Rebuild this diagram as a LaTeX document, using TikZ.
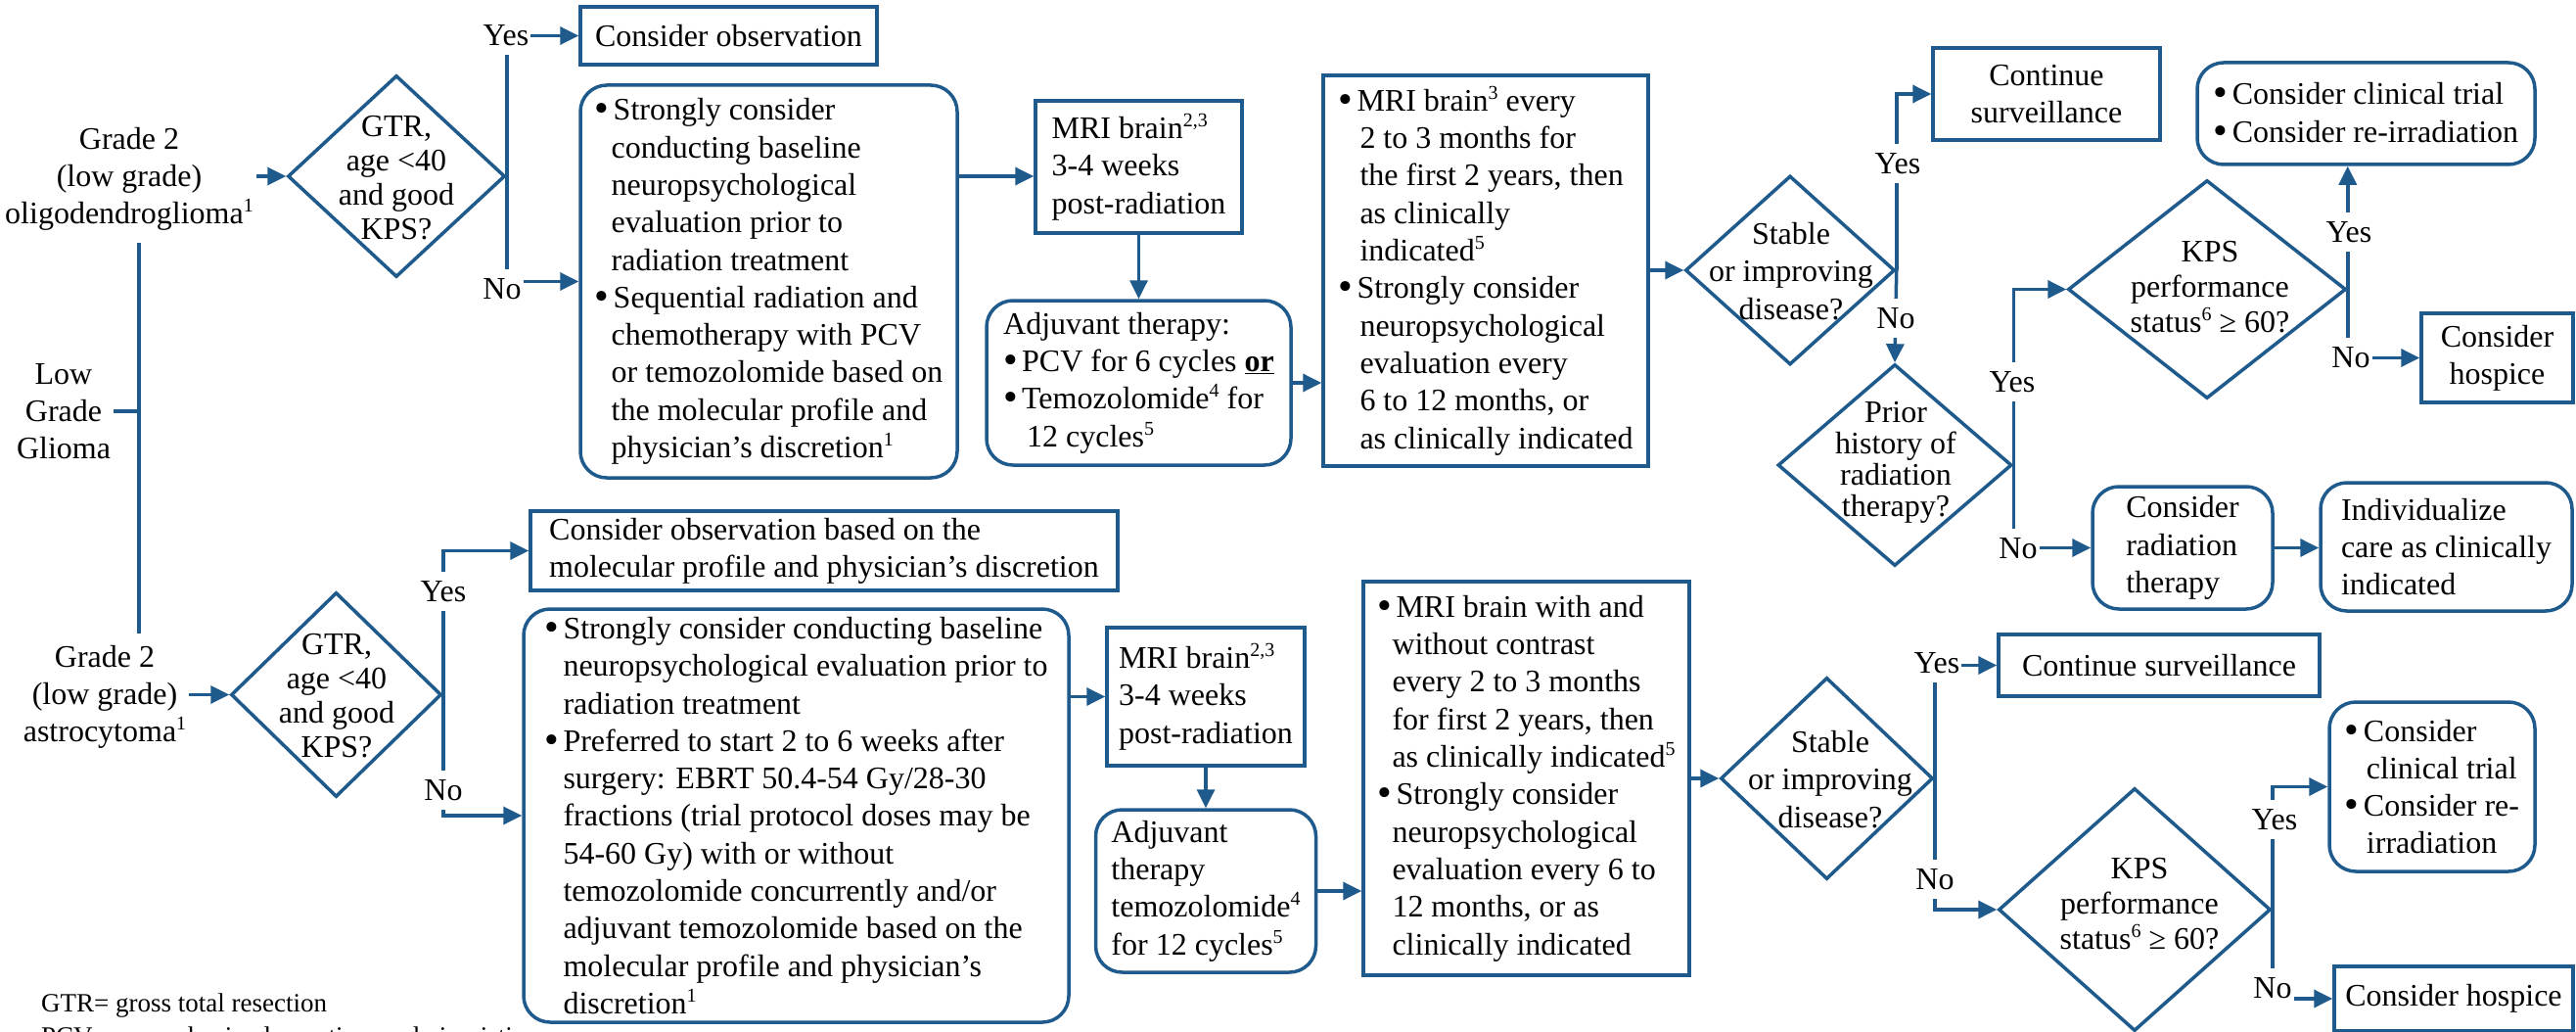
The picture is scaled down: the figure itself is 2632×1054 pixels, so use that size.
\documentclass[tikz,border=0pt]{standalone}
\usepackage{fontspec}
\setmainfont{Liberation Serif}
\usetikzlibrary{shapes.geometric,arrows.meta}
\definecolor{flow}{RGB}{31,90,140}
% bullet with hanging indent, superscript notes
\newcommand{\bulmark}[1][19pt]{\makebox[#1][l]{\raisebox{-2pt}{\fontsize{42}{42}\selectfont\textbullet}}}
\newcommand{\contind}[1][19pt]{\hspace*{#1}}
\newcommand{\sups}[1]{\raisebox{12pt}{\fontsize{20}{20}\selectfont #1}}

\begin{document}
\begin{tikzpicture}[x=1pt,y=-1pt,
  txtfont/.style={font=\fontsize{32}{38.3}\selectfont},
  flowbox/.style={draw=flow, line width=3.5pt, rectangle, inner sep=0pt, align=left, txtfont},
  roundbox/.style={flowbox, rounded corners=27pt},
  decision/.style={draw=flow, line width=3.5pt, diamond, inner sep=0pt},
  dtext/.style={font=\fontsize{32}{#1}\selectfont, align=center, inner sep=0pt},
  lbl/.style={fill=white, inner xsep=2pt, inner ysep=9pt, txtfont},
  link/.style={draw=flow, line width=3.5pt},
  arrowlink/.style={link, -{Triangle[length=19pt,width=18pt]}},
  plain/.style={txtfont, align=center, inner xsep=3pt, inner ysep=12pt},
  footnote/.style={font=\fontsize{27}{34}\selectfont, anchor=base west, inner sep=0pt},
]
\useasboundingbox (0,0) rectangle (2632,1054);
\clip (0,0) rectangle (2632,1054);
\fill[white] (0,0) rectangle (2632,1054);

% ---------- entry labels ----------
\node[plain] (g2o) at (132,183) {Grade 2\\(low grade)\\oligodendroglioma\sups{1}};
\node[plain, inner ysep=3pt] (lgg) at (65,420) {Low\\Grade\\Glioma};
\coordinate (spine) at (142,420);
\node[plain] (g2a) at (107,712) {Grade 2\\(low grade)\\astrocytoma\sups{1}};

% ---------- oligodendroglioma branch ----------
\node[decision, minimum width=222pt, minimum height=206pt] (d1) at (405,180) {};
\node[dtext=35] (d1t) at (405,182) {GTR,\\age <40\\and good\\KPS?};

\node[flowbox, align=center, minimum width=303pt, minimum height=59pt] (obs1) at (744.5,36.5) {Consider observation};

\node[roundbox, minimum width=385pt, minimum height=401pt] (box1) at (785.5,287.5) {%
\bulmark Strongly consider\\
\contind[17pt]conducting baseline\\
\contind[17pt]neuropsychological\\
\contind[17pt]evaluation prior to\\
\contind[17pt]radiation treatment\\
\bulmark Sequential radiation and\\
\contind[17pt]chemotherapy with PCV\\
\contind[17pt]or temozolomide based on\\
\contind[17pt]the molecular profile and\\
\contind[17pt]physician’s discretion\sups{1}};

\node[flowbox, minimum width=211pt, minimum height=135pt] (mri1) at (1163.5,170.5) {MRI brain\sups{2,3}\\3-4 weeks\\post-radiation};
\coordinate (m1in) at ([yshift=-9.5pt]mri1.west);

\node[roundbox, minimum width=311pt, minimum height=168pt] (adj1) at (1163.5,391) {%
Adjuvant therapy:\\
\bulmark PCV for 6 cycles \underline{\textbf{or}}\\
\bulmark Temozolomide\sups{4} for\\
\contind[24pt]12 cycles\sups{5}};

\node[flowbox, minimum width=332pt, minimum height=399pt] (mrie1) at (1518,276.5) {%
\bulmark MRI brain\sups{3} every\\
\contind[22pt]2 to 3 months for\\
\contind[22pt]the first 2 years, then\\
\contind[22pt]as clinically\\
\contind[22pt]indicated\sups{5}\\
\bulmark Strongly consider\\
\contind[22pt]neuropsychological\\
\contind[22pt]evaluation every\\
\contind[22pt]6 to 12 months, or\\
\contind[22pt]as clinically indicated};

\node[decision, minimum width=214pt, minimum height=193pt] (s1) at (1829,276) {};
\node[dtext=38.5] (s1t) at (1830,277) {Stable\\or improving\\disease?};

\node[flowbox, align=center, minimum width=232pt, minimum height=94pt] (cs1) at (2091,96) {Continue\\surveillance};

\node[decision, minimum width=239pt, minimum height=206pt] (prior) at (1936,475) {};
\node[dtext=32] (pt) at (1937,472) {Prior\\history of\\radiation\\therapy?};

\node[decision, minimum width=284pt, minimum height=223pt] (k1) at (2255,295.5) {};
\node[dtext=36] (k1t) at (2258,293) {KPS\\performance\\status\sups{6} ≥ 60?};

\node[roundbox, minimum width=345pt, minimum height=104pt] (clin1) at (2417.5,116) {%
\bulmark Consider clinical trial\\
\bulmark Consider re-irradiation};

\node[flowbox, align=center, minimum width=155pt, minimum height=91pt] (hosp1) at (2551.5,365.5) {Consider\\hospice};

\node[roundbox, minimum width=184pt, minimum height=125pt] (rad) at (2230,559.5) {Consider\\radiation\\therapy};
\node[roundbox, minimum width=257pt, minimum height=131pt] (indiv) at (2499.5,558.5) {Individualize\\care as clinically\\indicated};

% ---------- astrocytoma branch ----------
\node[decision, minimum width=215pt, minimum height=209pt] (d2) at (343.5,709.5) {};
\node[dtext=35] (d2t) at (344,711) {GTR,\\age <40\\and good\\KPS?};

\node[flowbox, minimum width=600pt, minimum height=81pt] (obs2) at (842,562.5) {Consider observation based on the\\molecular profile and physician’s discretion};

\node[roundbox, minimum width=557pt, minimum height=422pt] (box2) at (813.5,833) {%
\bulmark Strongly consider conducting baseline\\
\contind neuropsychological evaluation prior to\\
\contind radiation treatment\\
\bulmark Preferred to start 2 to 6 weeks after\\
\contind surgery: EBRT 50.4-54 Gy/28-30\\
\contind fractions (trial protocol doses may be\\
\contind 54-60 Gy) with or without\\
\contind temozolomide concurrently and/or\\
\contind adjuvant temozolomide based on the\\
\contind molecular profile and physician’s\\
\contind discretion\sups{1}};

\node[flowbox, minimum width=202pt, minimum height=141pt] (mri2) at (1232,711.5) {MRI brain\sups{2,3}\\3-4 weeks\\post-radiation};

\node[roundbox, minimum width=225pt, minimum height=166pt] (adj2) at (1232,910) {Adjuvant\\therapy\\temozolomide\sups{4}\\for 12 cycles\sups{5}};

\node[flowbox, minimum width=333pt, minimum height=402pt] (mrie2) at (1559.5,795) {%
\bulmark MRI brain with and\\
\contind[15pt]without contrast\\
\contind[15pt]every 2 to 3 months\\
\contind[15pt]for first 2 years, then\\
\contind[15pt]as clinically indicated\sups{5}\\
\bulmark Strongly consider\\
\contind[15pt]neuropsychological\\
\contind[15pt]evaluation every 6 to\\
\contind[15pt]12 months, or as\\
\contind[15pt]clinically indicated};

\node[decision, minimum width=217pt, minimum height=206pt] (s2) at (1866.5,795) {};
\node[dtext=38.5] (s2t) at (1870,796) {Stable\\or improving\\disease?};

\node[flowbox, align=center, minimum width=328pt, minimum height=63pt] (cs2) at (2206,679.5) {Continue surveillance};

\node[decision, minimum width=278pt, minimum height=248pt] (k2) at (2181,929) {};
\node[dtext=36] (k2t) at (2186,923) {KPS\\performance\\status\sups{6} ≥ 60?};

\node[roundbox, minimum width=210pt, minimum height=173pt] (clin2) at (2485,803.5) {%
\bulmark Consider\\
\contind[22pt]clinical trial\\
\bulmark Consider re-\\
\contind[22pt]irradiation};

\node[flowbox, align=center, minimum width=244pt, minimum height=66pt] (hosp2) at (2507,1020) {Consider hospice};

% ---------- footnotes ----------
\node[footnote] (fn1) at (42,1033) {GTR= gross total resection};
\node[footnote] (fn2) at (42,1067) {PCV = procarbazine lomustine, and vincristine};

% ---------- connectors ----------
\draw[link] (g2o.south -| spine) -- (g2a.north -| spine);
\draw[link] (lgg.east) -- (lgg.east -| spine);

\draw[arrowlink] (d1.west -| g2o.east) -- (d1.west);
\draw[arrowlink] (d1.east) |- (obs1.west);
\draw[arrowlink] (d1.east) |- (box1.west);
\draw[arrowlink] (m1in -| box1.east) -- (m1in);
\draw[arrowlink] (mri1.south) -- (adj1.north);
\draw[arrowlink] (adj1.east) -- (adj1.east -| mrie1.west);
\draw[arrowlink] (s1.west -| mrie1.east) -- (s1.west);
\draw[arrowlink] (s1.east) |- (cs1.west);
\draw[arrowlink] (s1.east) -- (prior.north);
\draw[arrowlink] (prior.east) |- (k1.west);
\draw[arrowlink] (prior.east) |- (rad.west);
\draw[arrowlink] (rad.east) -- (rad.east -| indiv.west);
\draw[arrowlink] (k1.east) -- (k1.east |- clin1.south);
\draw[arrowlink] (k1.east) |- (hosp1.west);

\draw[arrowlink] (d2.west -| g2a.east) -- (d2.west);
\draw[arrowlink] (d2.east) |- (obs2.west);
\draw[arrowlink] (d2.east) |- (box2.west);
\draw[arrowlink] (mri2.west -| box2.east) -- (mri2.west);
\draw[arrowlink] (mri2.south) -- (mri2.south |- adj2.north);
\draw[arrowlink] (adj2.east) -- (adj2.east -| mrie2.west);
\draw[arrowlink] (s2.west -| mrie2.east) -- (s2.west);
\draw[arrowlink] (s2.east) |- (cs2.west);
\draw[arrowlink] (s2.east) |- (k2.west);
\draw[arrowlink] (k2.east) |- (clin2.west);
\draw[arrowlink] (k2.east) |- (hosp2.west);

% ---------- branch labels ----------
\node[lbl] (y1) at (517,36) {Yes};
\node[lbl] (n1) at (513,295) {No};
\node[lbl] (y2) at (1939,167) {Yes};
\node[lbl] (n2) at (1937,325) {No};
\node[lbl] (y3) at (2056,390) {Yes};
\node[lbl] (n3) at (2062,560) {No};
\node[lbl] (y4) at (2400,237) {Yes};
\node[lbl] (n4) at (2402,365) {No};
\node[lbl] (y5) at (453,604) {Yes};
\node[lbl] (n5) at (453,807) {No};
\node[lbl] (y6) at (1979,677) {Yes};
\node[lbl] (n6) at (1977,898) {No};
\node[lbl] (y7) at (2324,837) {Yes};
\node[lbl] (n7) at (2322,1009) {No};
\end{tikzpicture}
\end{document}
